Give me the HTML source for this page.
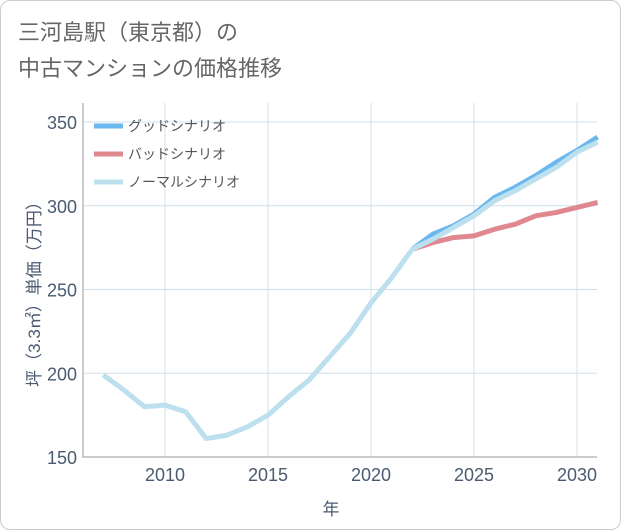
<!DOCTYPE html>
<html><head><meta charset="utf-8"><style>
body{margin:0;background:#fff;font-family:"Liberation Sans","Noto Sans CJK JP",sans-serif}
#card{position:absolute;left:0;top:0;width:619px;height:528px;border:1px solid #ccc;border-radius:10px;background:#fff}
</style></head><body>
<div id="card"></div>
<svg id="chart" width="621" height="530" style="position:absolute;left:0;top:0">
<text x="18" y="40" font-size="22" fill="#666">三河島駅（東京都）の</text>
<text x="18" y="76" font-size="22" fill="#666">中古マンションの価格推移</text>
<g id="grid"></g><g id="series"></g><g id="axes"></g>
<text transform="translate(40,290) rotate(-90)" text-anchor="middle" font-size="17" fill="#4a5a70">坪（3.3㎡）単価（万円）</text>
<text x="331" y="515" text-anchor="middle" font-size="17" fill="#4a5a70">年</text>
<g id="legend"></g>
</svg>
<script>
const years=[2007,2008,2009,2010,2011,2012,2013,2014,2015,2016,2017,2018,2019,2020,2021,2022,2023,2024,2025,2026,2027,2028,2029,2030,2031];
const normalVals=[199,190,180,181,177,161,163,168,175,186,196,210,224,242,257,274,280,287,294,303,309,316,323,332,338];
const goodYears=[2022,2023,2024,2025,2026,2027,2028,2029,2030,2031];
const goodVals=[274,283,288,295,305,311,318,326,333,341];
const badVals=[274,278,281,282,286,289,294,296,299,302];
const yTicks=[150,200,250,300,350];
const xTicks=[2010,2015,2020,2025,2030];
const seriesNames=["グッドシナリオ","バッドシナリオ","ノーマルシナリオ"];
const seriesColors=["#6bb8ee","#e08890","#bde0ee"];
const L=83,R=597,T=103,B=457;
const x=v=>165+(v-2010)*(371-165)/10;
const y=v=>457-(v-150)*(457-122)/200;
const NS="http://www.w3.org/2000/svg";
function mk(tag,attrs,parent){const e=document.createElementNS(NS,tag);for(const k in attrs)e.setAttribute(k,attrs[k]);parent.appendChild(e);return e;}
const grid=document.getElementById('grid'),axes=document.getElementById('axes'),ser=document.getElementById('series'),leg=document.getElementById('legend');
yTicks.forEach(t=>{const l=mk('line',{x1:L,x2:R,y1:y(t),y2:y(t),stroke:'#cfe0ec','stroke-width':1},grid);

const tx=mk('text',{x:L-6,y:y(t)+7,'text-anchor':'end','font-size':18,fill:'#4a5a70'},axes);tx.textContent=t;
});
xTicks.forEach(t=>{const l=mk('line',{x1:x(t),x2:x(t),y1:T,y2:B,stroke:'#cfe0ec','stroke-width':1},grid);

const tx=mk('text',{x:x(t),y:B+24,'text-anchor':'middle','font-size':18,fill:'#4a5a70'},axes);tx.textContent=t;
});
const ax=mk('path',{d:`M${L},${T}V${B}H${R}`,fill:'none',stroke:'#999','stroke-width':1},axes);

function line(xs,vs,color,name){const p=mk('polyline',{points:xs.map((v,i)=>x(v)+','+y(vs[i])).join(' '),fill:'none',stroke:color,'stroke-width':5,'stroke-linejoin':'round'},ser);
}
line(goodYears,goodVals,seriesColors[0],'good-scenario-line');
line(goodYears,badVals,seriesColors[1],'bad-scenario-line');
line(years,normalVals,seriesColors[2],'normal-scenario-line');
seriesNames.forEach((n,i)=>{const yy=126+i*28;
const g=mk('g',{},leg);
mk('line',{x1:94,x2:123,y1:yy,y2:yy,stroke:seriesColors[i],'stroke-width':5},g);
const t=mk('text',{x:128,y:yy+5,'font-size':14,fill:'#555'},g);t.textContent=n;});
</script>
</body></html>
